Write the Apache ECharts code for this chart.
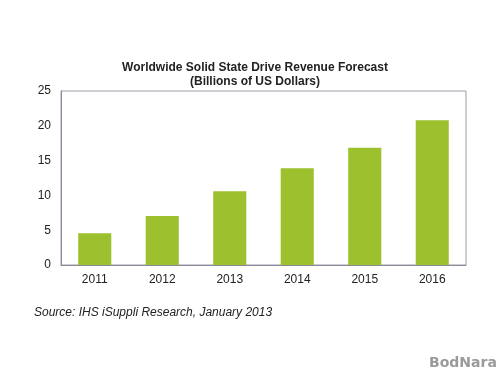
<!DOCTYPE html>
<html>
<head>
<meta charset="utf-8">
<script src="https://cdn.jsdelivr.net/npm/echarts@6/dist/echarts.min.js"></script>
<style>
  html, body { margin: 0; padding: 0; background: #fff; }
  #chart { width: 500px; height: 375px; }
</style>
</head>
<body>
<div id="chart"></div>
<script>
var years = ['2011', '2012', '2013', '2014', '2015', '2016'];
var revenue = [4.55, 7.05, 10.6, 13.9, 16.85, 20.8];
var yTicks = [0, 25, 5];

var chart = echarts.init(document.getElementById('chart'), null, { renderer: 'canvas' });

var option = {
  backgroundColor: '#fff',
  animation: false,
  title: {
    text: 'Worldwide Solid State Drive Revenue Forecast\n(Billions of US Dollars)',
    left: 250,
    top: 56,
    textAlign: 'center',
    textStyle: {
      fontFamily: 'Liberation Sans',
      fontSize: 12,
      fontWeight: 'bold',
      color: '#222',
      lineHeight: 14
    }
  },
  grid: {
    left: 61,
    right: 34,
    top: 91,
    bottom: 110,
    show: true,
    borderColor: '#9a9aa6',
    borderWidth: 1
  },
  xAxis: {
    type: 'category',
    data: years,
    axisLine: { show: true, lineStyle: { color: '#8a8a9c' } },
    axisTick: { show: false },
    axisLabel: {
      fontFamily: 'Liberation Sans',
      fontSize: 12,
      color: '#222',
      margin: 9
    }
  },
  yAxis: {
    type: 'value',
    min: yTicks[0],
    max: yTicks[1],
    interval: yTicks[2],
    axisLine: { show: true, lineStyle: { color: '#8a8a9c' } },
    axisTick: { show: false },
    splitLine: { show: false },
    axisLabel: {
      fontFamily: 'Liberation Sans',
      fontSize: 12,
      color: '#222',
      margin: 10
    }
  },
  series: [{
    type: 'bar',
    data: revenue,
    barWidth: '49%',
    itemStyle: { color: '#9dc02e' }
  }],
  graphic: [
    {
      type: 'text',
      left: 34,
      top: 307,
      style: {
        text: 'Source: IHS iSuppli Research, January 2013',
        font: 'italic 12px "Liberation Sans"',
        fill: '#222'
      }
    },
    {
      type: 'text',
      left: 429,
      top: 356,
      style: {
        text: 'BodNara',
        font: 'bold 14px "DejaVu Sans"',
        fill: '#9a9a9a'
      }
    }
  ]
};

chart.setOption(option);
</script>
</body>
</html>
